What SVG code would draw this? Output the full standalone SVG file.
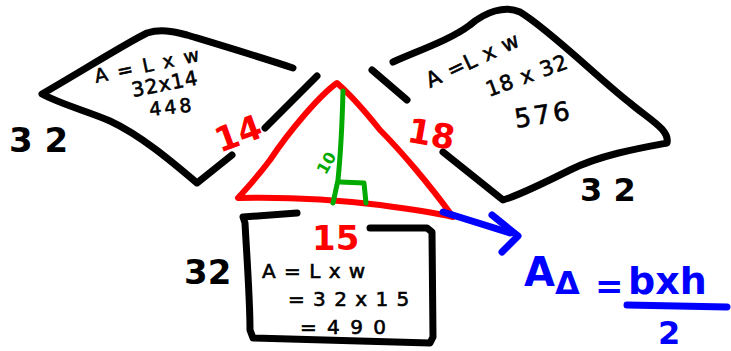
<svg xmlns="http://www.w3.org/2000/svg" width="731" height="351" viewBox="0 0 731 351">
<style>
.k{fill:none;stroke:#000;stroke-width:7;stroke-linecap:round;stroke-linejoin:round}
.r{fill:none;stroke:#f00;stroke-width:6;stroke-linecap:round;stroke-linejoin:round}
.g{fill:none;stroke:#0a0;stroke-width:5;stroke-linecap:round;stroke-linejoin:round}
.b{fill:none;stroke:#00f;stroke-width:7;stroke-linecap:round;stroke-linejoin:round}
.t{font-family:"DejaVu Sans",sans-serif;fill:#000;stroke:#000;stroke-width:0.6}
.tb{font-family:"DejaVu Sans",sans-serif;font-weight:bold}
</style>
<rect width="731" height="351" fill="#fff"/>
<g id="left-face">
<path class="k" d="M293,68 C260,57 220,45 187,35 C172,31 160,29 147,33 C130,41 80,72 42,94 C60,104 90,112 110,121 C140,135 170,160 197,183 L232,155"/>
<path class="k" d="M317,76 L265,128"/>
<text class="t" x="96" y="83" font-size="19" letter-spacing="2" transform="rotate(-12 96 83)">A = L x w</text>
<text class="t" x="133" y="97" font-size="20" letter-spacing="1" transform="rotate(-11 133 97)">32x14</text>
<text class="t" x="150" y="116" font-size="19" letter-spacing="3" transform="rotate(-6 150 116)">448</text>
<text class="tb" x="9" y="152" font-size="34">3 2</text>
<text class="tb" x="214" y="146" font-size="34" fill="#f00" transform="rotate(-20 236 132)">14</text>
</g>
<g id="right-face">
<path class="k" d="M393,62 C420,50 450,40 470,25 C485,12 505,5 520,12 C550,30 600,80 630,103 C650,120 670,130 667,143 C640,148 600,155 570,170 C550,180 520,195 503,200 L443,152"/>
<path class="k" d="M372,70 L407,100"/>
<text class="t" x="430" y="88" font-size="21" letter-spacing="1" transform="rotate(-25 430 88)">A =L x w</text>
<text class="t" x="489" y="97" font-size="21" letter-spacing="1" transform="rotate(-20 489 97)">18 x 32</text>
<text class="t" x="516" y="128" font-size="26" letter-spacing="3" transform="rotate(-9 516 128)">576</text>
<text class="tb" x="580" y="201" font-size="32">3 2</text>
<text class="tb" x="408" y="146" font-size="34" fill="#f00" transform="rotate(10 432 132)">18</text>
</g>
<g id="bottom-face">
<path class="k" d="M297,213 L243,217 L245,223 C247,260 250,300 250,330 L253,338 L430,343 L433,337 L432,232 L427,228 L370,228"/>
<text class="tb" x="312" y="250" font-size="34" fill="#f00">15</text>
<text class="t" x="262" y="278" font-size="20" letter-spacing="1">A = L x w</text>
<text class="t" x="288" y="306" font-size="20" letter-spacing="1">= 3 2 x 1 5</text>
<text class="t" x="300" y="334" font-size="20" letter-spacing="2">= 4 9 0</text>
<text class="tb" x="184" y="284" font-size="34">32</text>
</g>
<g id="triangle">
<path class="r" d="M337,83 C320,95 290,130 270,160 C255,180 245,190 238,198 C280,197 330,199 380,205 C410,209 440,214 453,217 C430,185 400,150 380,130 C360,105 345,90 337,83 Z"/>
<path class="g" d="M343,91 C342,130 340,160 338,180 L333,203"/>
<path class="g" d="M340,182 L364,183 L366,203"/>
<text class="tb" x="311" y="170" font-size="16" fill="#0a0" transform="rotate(-60 323 160)">10</text>
</g>
<g id="connectors">
<path class="b" d="M443,212 L510,233"/>
<path class="b" d="M492,215 L518,236 L502,252"/>
</g>
<g id="formula">
<text class="tb" x="524" y="286" font-size="40" fill="#00f">A</text>
<text class="tb" x="555" y="294" font-size="32" fill="#00f">Δ</text>
<text class="tb" x="595" y="298" font-size="34" fill="#00f">=</text>
<text class="tb" x="628" y="294" font-size="38" fill="#00f">bxh</text>
<path class="b" d="M627,305 L727,307"/>
<text class="tb" x="658" y="344" font-size="32" fill="#00f">2</text>
</g>
</svg>
